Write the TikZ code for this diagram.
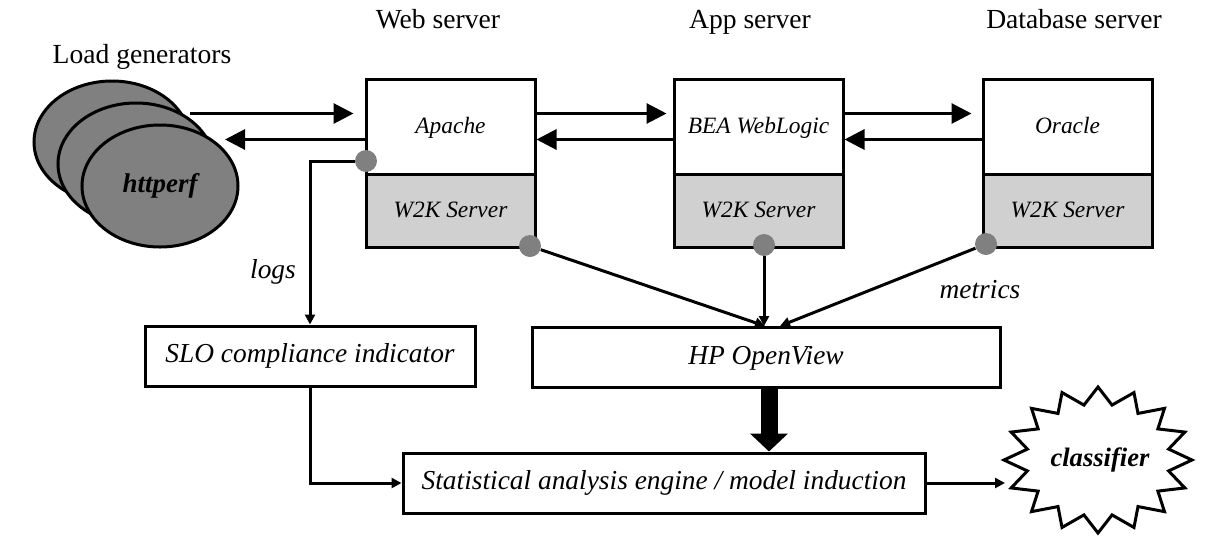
\documentclass[tikz,border=0pt]{standalone}
\usepackage{fontspec}
\setmainfont{Liberation Serif}
\usetikzlibrary{arrows.meta,shapes.geometric}
\definecolor{dotgray}{HTML}{808080}
\definecolor{srvgray}{HTML}{D0D0D0}

\begin{document}
\begin{tikzpicture}[x=0.5pt,y=-0.5pt,
	box/.style={draw,line width=1.5pt,minimum height=30pt,text height=0.68em,text depth=0.02em,font=\fontsize{13.7}{16}\selectfont\itshape},
	srvtop/.style={draw,line width=1.5pt,minimum width=84.5pt,minimum height=47.5pt,text height=0.68em,text depth=0.02em,font=\fontsize{11.7}{14}\selectfont\itshape},
	srvos/.style={srvtop,fill=srvgray,minimum height=36.5pt},
	title/.style={text height=0.68em,text depth=0.02em,font=\fontsize{13.8}{16}\selectfont},
	lg/.style={ellipse,draw,line width=1.5pt,fill=dotgray,minimum width=78pt,minimum height=61pt},
	dot/.style={circle,fill=dotgray,inner sep=0pt,minimum size=11pt},
	arr/.style={line width=1.5pt,-{Triangle[length=10pt,width=10pt]}},
	sarr/.style={line width=1.5pt,-{Triangle[length=5pt,width=5pt]}},
	lbl/.style={font=\fontsize{13.7}{16}\selectfont\itshape}]
	\useasboundingbox (0,0) rectangle (1212,542);

	% load generators
	\node[title] (lgtitle) at (142,57) {Load generators};
	\node[lg] (lg1) at (112,142) {};
	\node[lg] (lg2) at (136,164) {};
	\node[lg,font=\fontsize{13.5}{16}\selectfont\bfseries\itshape] (lg3) at (160,186) {httperf};
	\coordinate (lgout) at (190,113.5);
	\coordinate (lgin) at (225,139.5);

	% servers
	\node[title] (webtitle) at (438,22) {Web server};
	\node[title] (apptitle) at (750,22) {App server};
	\node[title] (dbtitle) at (1074,22) {Database server};
		\node[srvtop] (apache) at (450.5,126.5) {Apache};
		\node[srvos] (webos) at (450.5,210.5) {W2K Server};
		\node[srvtop] (bea) at (758.5,126.5) {BEA WebLogic};
		\node[srvos] (appos) at (758.5,210.5) {W2K Server};
		\node[srvtop] (oracle) at (1067.5,126.5) {Oracle};
		\node[srvos] (dbos) at (1067.5,210.5) {W2K Server};

	\draw[arr,shorten >=5.5pt] (lgout) -- ([yshift=6.5pt]apache.west);
	\draw[arr] ([yshift=-6.5pt]apache.west) -- (lgin);
	\draw[arr,shorten >=3pt] ([yshift=6.5pt]apache.east) -- ([yshift=6.5pt]bea.west);
	\draw[arr] ([yshift=-6.5pt]bea.west) -- ([yshift=-6.5pt]apache.east);
	\draw[arr,shorten >=5pt] ([yshift=6.5pt]bea.east) -- ([yshift=6.5pt]oracle.west);
	\draw[arr] ([yshift=-6.5pt]oracle.west) -- ([yshift=-6.5pt]bea.east);

	% lower boxes
	\node[box,minimum width=165pt] (slo) at (310,356) {SLO compliance indicator};
	\node[box,minimum width=234pt] (hp) at (766,357.5) {HP OpenView};
	\node[box,minimum width=261pt] (stat) at (664,483) {Statistical analysis engine / model induction};
	\draw[line width=1.5pt,fill=white] plot[domain=0:31,samples=32,variable=\k]
		({1098+(94-22*mod(\k,2))*cos(\k*11.25-90)},{460+(73-17*mod(\k,2))*sin(\k*11.25-90)}) -- cycle;
	\node[font=\fontsize{13.3}{16}\selectfont\bfseries\itshape] (cls) at (1100,460) {classifier};
	\coordinate (clsin) at (1005,483);

	% monitoring points
	\node[dot] (d1) at (366,161) {};
	\node[dot] (d2) at (530,246) {};
	\node[dot] (d3) at (764,245) {};
	\node[dot] (d4) at (986,244) {};
	\node[lbl] (logs) at (273,272) {logs};
	\node[lbl] (metrics) at (980,290) {metrics};

	\draw[sarr] (d1) -| (slo.north);
	\draw[sarr] (d2) -- ([xshift=-0.5pt]hp.north);
	\draw[sarr] (d3) -- (d3 |- hp.north);
	\draw[sarr] (d4) -- ([xshift=7pt]hp.north);
	\draw[sarr] (slo.south) |- (stat.west);
	\draw[line width=8.5pt,-{Triangle[length=9pt,width=18.5pt]}] ([xshift=1.5pt]hp.south) -- ([xshift=1.5pt]hp.south |- stat.north);
	\draw[sarr] (stat.east) -- (clsin);
\end{tikzpicture}
\end{document}
